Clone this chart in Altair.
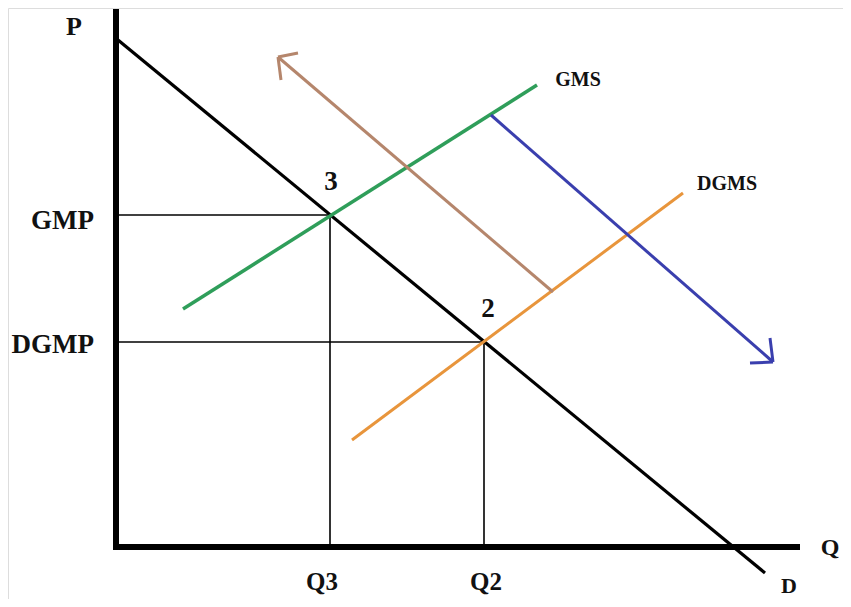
import altair as alt
import pandas as pd

# Line segments in diagram units (origin at the axes corner, Q right, P up)
seg_name = ["P axis", "Q axis", "D", "GMP level", "DGMP level", "Q3 drop", "Q2 drop",
            "GMS", "DGMS", "shift up", "shift up head a", "shift up head b",
            "shift down", "shift down head a", "shift down head b"]
seg_x1 = [-2, -5, 0, 0, 0, 212, 366, 65, 234, 435, 160, 160, 373, 655, 655]
seg_y1 = [-3, 0, 507, 332, 205, 332, 205, 238, 107, 255, 490, 490, 432, 185, 185]
seg_x2 = [-2, 682, 647, 212, 366, 212, 366, 419, 565, 160, 180, 163, 655, 632, 652]
seg_y2 = [538, 0, -26, 332, 205, 0, 0, 462, 354, 490, 494, 467, 185, 184, 209]
seg_color = ["#000000", "#000000", "#000000", "#000000", "#000000", "#000000", "#000000",
             "#2f9e5a", "#e8953c", "#b5866c", "#b5866c", "#b5866c",
             "#3a3fae", "#3a3fae", "#3a3fae"]
seg_width = [6, 6, 3.2, 1.6, 1.6, 1.6, 1.6, 3.5, 3, 3, 3, 3, 3, 3, 3]

# Text labels
lab_text = ["P", "3", "2", "GMS", "DGMS", "Q3", "Q2", "Q", "D"]
lab_x = [-44, 213, 370, 460, 609, 204, 368, 712, 671]
lab_y = [520, 365, 238, 467, 363, -35, -35, -1, -39]
lab_size = [26, 27, 27, 20, 20, 25, 25, 24, 22]

side_text = ["GMP", "DGMP"]
side_x = [-24, -24]
side_y = [326, 202]
side_size = [27, 27]

segs = pd.DataFrame({"name": seg_name, "x": seg_x1, "y": seg_y1, "x2": seg_x2,
                     "y2": seg_y2, "color": seg_color, "w": seg_width})
labs = pd.DataFrame({"t": lab_text, "x": lab_x, "y": lab_y, "s": lab_size})
sides = pd.DataFrame({"t": side_text, "x": side_x, "y": side_y, "s": side_size})

xs = alt.Scale(domain=[-110, 725], nice=False, zero=False)
ys = alt.Scale(domain=[-52, 539], nice=False, zero=False)

lines = alt.Chart(segs).mark_rule(strokeCap="butt").encode(
    x=alt.X("x:Q", scale=xs, axis=None),
    y=alt.Y("y:Q", scale=ys, axis=None),
    x2="x2:Q",
    y2="y2:Q",
    color=alt.Color("color:N", scale=None),
    strokeWidth=alt.StrokeWidth("w:Q", scale=None),
)

texts = alt.Chart(labs).mark_text(font="Liberation Serif", fontWeight="bold",
                                   align="center", baseline="middle", color="#111111").encode(
    x=alt.X("x:Q", scale=xs, axis=None),
    y=alt.Y("y:Q", scale=ys, axis=None),
    text="t:N",
    size=alt.Size("s:Q", scale=None),
)

side = alt.Chart(sides).mark_text(font="Liberation Serif", fontWeight="bold",
                                  align="right", baseline="middle", color="#111111").encode(
    x=alt.X("x:Q", scale=xs, axis=None),
    y=alt.Y("y:Q", scale=ys, axis=None),
    text="t:N",
    size=alt.Size("s:Q", scale=None),
)

chart = alt.layer(lines, texts, side).properties(
    width=835, height=591, padding=0, autosize=alt.AutoSizeParams(type="none")
).configure_view(stroke=None).configure(background="white")

chart.save("out.html", embed_options={"renderer": "svg", "actions": False})
